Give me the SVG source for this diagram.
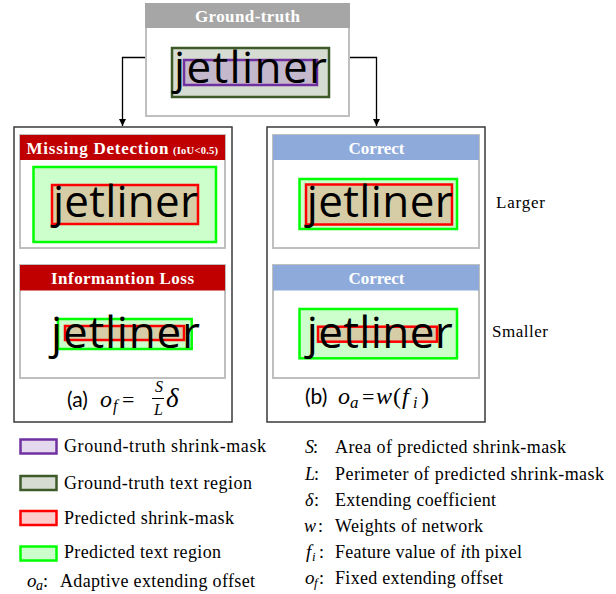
<svg xmlns="http://www.w3.org/2000/svg" width="616" height="594" viewBox="0 0 616 594">
<defs>
<marker id="arr" markerWidth="8" markerHeight="8" refX="7" refY="4" orient="auto" markerUnits="userSpaceOnUse"><path d="M0,0.5 L7,4 L0,7.5 z" fill="#000"/></marker>
</defs>
<style>
.panel{fill:#fff;stroke:#3a3a3a;stroke-width:1.5}
.card{fill:#fff;stroke:#bfbfbf;stroke-width:2}
.hd{font-family:"Liberation Serif",serif;font-weight:bold;fill:#fff;font-size:17px}
.jt{font-family:"Open Sans",sans-serif;font-size:44px;fill:#000}
.gr{fill:#ccffcc;stroke:#00ff00;stroke-width:2.5}
.rd{fill:#d6cda6;stroke:#ff0000;stroke-width:2.5}
.lg{font-family:"Liberation Serif",serif;font-size:18px;fill:#000}
.mi{font-family:"Liberation Serif",serif;font-style:italic;fill:#000}
.up{font-family:"Liberation Serif",serif;fill:#000}
.cap{font-family:Lato,sans-serif;font-size:21px;fill:#000}
</style>
<rect width="616" height="594" fill="#fff"/>

<g id="connectors" fill="none" stroke="#000" stroke-width="1.3">
<path d="M146,57.5 H122.5 V126" marker-end="url(#arr)"/>
<path d="M350,57.5 H376.5 V126" marker-end="url(#arr)"/>
</g>

<g id="ground-truth">
<rect x="146" y="4" width="203" height="112" class="card"/>
<rect x="145" y="3" width="205" height="25" fill="#a6a6a6"/>
<text x="195" y="22" class="hd" textLength="105">Ground-truth</text>
<rect x="172" y="48" width="157" height="49" fill="#d6dcd2" stroke="#3d5a28" stroke-width="2.5"/>
<rect x="184" y="60" width="133" height="25" fill="#c4b8cd" stroke="#7030a0" stroke-width="2.5"/>
<text x="174" y="83" class="jt" textLength="153">jetliner</text>
</g>

<g id="panel-a">
<rect x="14" y="127" width="218" height="295" class="panel"/>
<text class="cap" x="67" y="407">(a)</text>
<text class="mi" font-size="24" x="100" y="407">o</text>
<text class="mi" font-size="16" x="113" y="411">f</text>
<text class="up" font-size="22" x="122" y="407">=</text>
<text class="mi" font-size="16" x="155" y="392">S</text>
<line x1="152" y1="398.5" x2="164" y2="398.5" stroke="#000" stroke-width="1"/>
<text class="mi" font-size="16" x="154" y="415">L</text>
<text class="mi" font-size="27" x="166" y="407">δ</text>
</g>

<g id="missing-detection">
<rect x="20" y="135" width="205" height="113" class="card"/>
<rect x="20" y="135" width="205" height="25" fill="#c00000"/>
<text x="26.5" y="153.5" class="hd" textLength="142">Missing Detection</text>
<text x="173" y="153.5" class="hd" style="font-size:10.5px" textLength="45">(IoU&lt;0.5)</text>
<rect x="33.5" y="167" width="182.5" height="75" class="gr"/>
<rect x="52" y="185" width="146" height="39" class="rd"/>
<text x="53" y="217" class="jt" textLength="145">jetliner</text>
</g>

<g id="information-loss">
<rect x="20" y="265" width="205" height="113" class="card"/>
<rect x="20" y="265" width="205" height="25.5" fill="#c00000"/>
<text x="51" y="283.5" class="hd" textLength="143">Informantion Loss</text>
<rect x="58" y="319" width="133.7" height="30" class="gr"/>
<rect x="65" y="326" width="119" height="14" class="rd"/>
<text x="51" y="347.5" class="jt" textLength="149">jetliner</text>
</g>

<g id="panel-b">
<rect x="267" y="127" width="218" height="295" class="panel"/>
<text class="cap" x="305" y="404">(b)</text>
<text class="mi" font-size="24" x="338" y="404">o</text>
<text class="mi" font-size="17" x="350" y="408">a</text>
<text class="up" font-size="22" x="362" y="404">=</text>
<text class="mi" font-size="24" x="376" y="404">w</text>
<text class="up" font-size="24" x="393" y="404">(</text>
<text class="mi" font-size="24" x="402" y="404">f</text>
<text class="mi" font-size="16" x="413" y="408">i</text>
<text class="up" font-size="24" x="421" y="404">)</text>
</g>

<g id="correct-larger">
<rect x="273" y="135" width="206" height="113" class="card"/>
<rect x="273" y="135" width="206" height="25" fill="#8eaadb"/>
<text x="348.5" y="153.5" class="hd" textLength="56">Correct</text>
<rect x="299.5" y="179" width="157.5" height="50" class="gr"/>
<rect x="306" y="184.5" width="146" height="40" class="rd"/>
<text x="306.7" y="217" class="jt" textLength="146">jetliner</text>
</g>

<g id="correct-smaller">
<rect x="273" y="265" width="206" height="113" class="card"/>
<rect x="273" y="265" width="206" height="25.5" fill="#8eaadb"/>
<text x="348.5" y="283.5" class="hd" textLength="56">Correct</text>
<rect x="299.5" y="309" width="157.5" height="49.3" class="gr"/>
<rect x="318" y="326.7" width="119" height="15" class="rd"/>
<text x="306.7" y="347.7" class="jt" textLength="146">jetliner</text>
</g>

<g id="labels">
<text x="496" y="208" class="lg" style="font-size:17px" textLength="49">Larger</text>
<text x="492" y="337" class="lg" style="font-size:17px" textLength="56">Smaller</text>
</g>

<g id="legend-left">
<rect x="20.5" y="439.5" width="36" height="14" fill="#e4d8ee" stroke="#7030a0" stroke-width="2.5"/>
<text x="64" y="452" class="lg" textLength="202">Ground-truth shrink-mask</text>
<rect x="20.5" y="476" width="36" height="14" fill="#d6dcd2" stroke="#3d5a28" stroke-width="2.5"/>
<text x="64" y="488.5" class="lg" textLength="188">Ground-truth text region</text>
<rect x="20.5" y="511" width="36" height="14" fill="#ffcccc" stroke="#ff0000" stroke-width="2.5"/>
<text x="64" y="523.5" class="lg" textLength="170">Predicted shrink-mask</text>
<rect x="20.5" y="546.5" width="36" height="14" fill="#ccffcc" stroke="#00ff00" stroke-width="2.5"/>
<text x="64" y="557.5" class="lg" textLength="157">Predicted text region</text>
<text x="27" y="586.5" class="mi" font-size="19">o</text>
<text x="36" y="590" class="mi" font-size="14">a</text>
<text x="43" y="586.5" class="lg">:</text>
<text x="60" y="586.5" class="lg" textLength="195">Adaptive extending offset</text>
</g>

<g id="legend-right">
<text x="305" y="453" class="mi" font-size="18">S</text>
<text x="313" y="453" class="lg">:</text>
<text x="335" y="453" class="lg" textLength="231">Area of predicted shrink-mask</text>
<text x="305" y="480" class="mi" font-size="18">L</text>
<text x="314" y="480" class="lg">:</text>
<text x="335" y="480" class="lg" textLength="269">Perimeter of predicted shrink-mask</text>
<text x="305" y="506" class="mi" font-size="18">δ</text>
<text x="314" y="506" class="lg">:</text>
<text x="335" y="506" class="lg" textLength="161">Extending coefficient</text>
<text x="304" y="532" class="mi" font-size="18">w</text>
<text x="318" y="532" class="lg">:</text>
<text x="335" y="532" class="lg" textLength="148">Weights of network</text>
<text x="306" y="558" class="mi" font-size="19">f</text>
<text x="312" y="561" class="mi" font-size="13">i</text>
<text x="319" y="558" class="lg">:</text>
<text x="335" y="558" class="lg" textLength="187">Feature value of <tspan font-style="italic">i</tspan>th pixel</text>
<text x="305" y="584" class="mi" font-size="19">o</text>
<text x="314" y="587" class="mi" font-size="13">f</text>
<text x="319" y="584" class="lg">:</text>
<text x="335" y="584" class="lg" textLength="168">Fixed extending offset</text>
</g>
</svg>
